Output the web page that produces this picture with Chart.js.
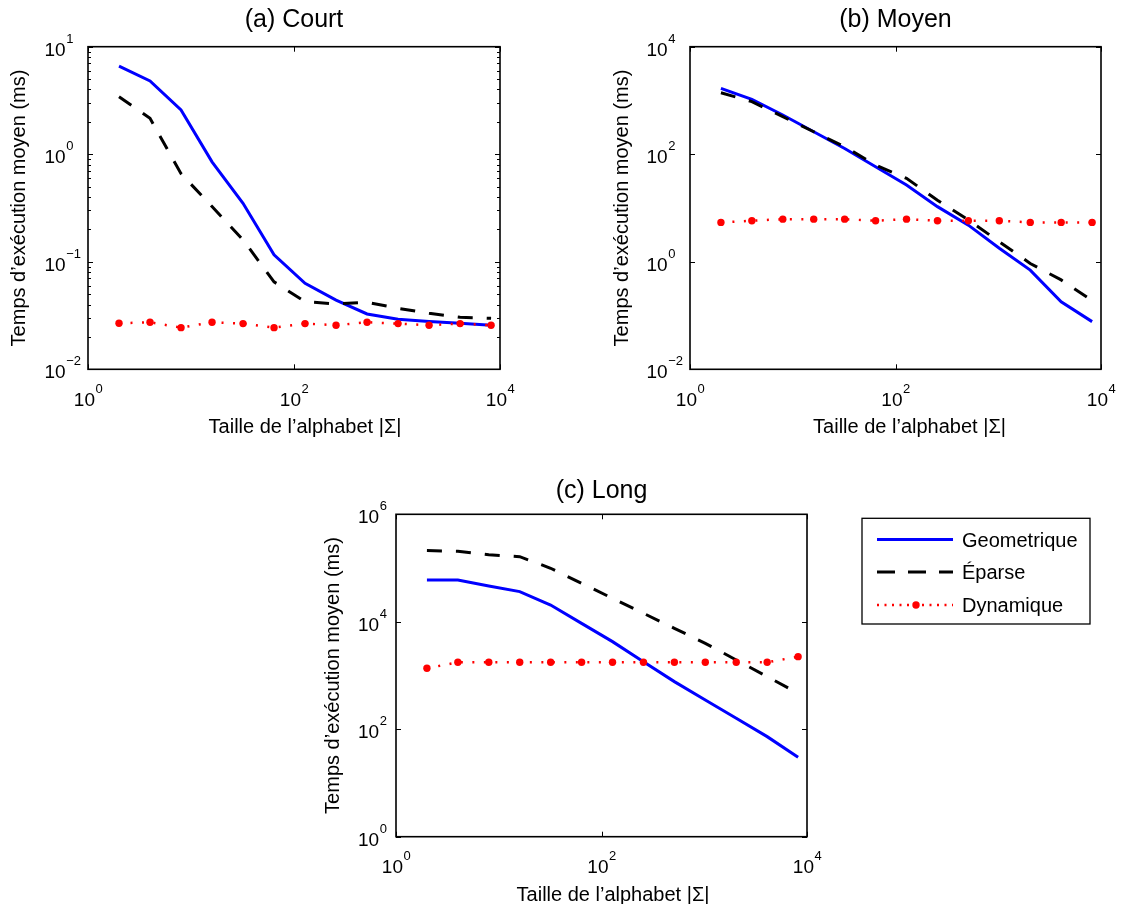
<!DOCTYPE html>
<html>
<head>
<meta charset="utf-8">
<script src="https://cdn.jsdelivr.net/npm/chart.js@4.4.0/dist/chart.umd.min.js"></script>
<style>
  html, body { margin: 0; padding: 0; background: #fff; }
  #wrap { position: relative; width: 1122px; height: 904px; }
  canvas { position: absolute; left: 0; top: 0; }
</style>
</head>
<body>
<div id="wrap">
  <canvas id="chartA" width="1122" height="904"></canvas>
  <canvas id="chartB" width="1122" height="904"></canvas>
  <canvas id="chartC" width="1122" height="904"></canvas>
</div>
<script>
// alphabet sizes |Sigma| (x axis)
const alphabetSizes = [2, 4, 8, 16, 32, 64, 128, 256, 512, 1024, 2048, 4096, 8192];

// (a) Court
const courtGeometrique = [6.6, 4.8, 2.58, 0.85, 0.35, 0.116, 0.063, 0.044, 0.0327, 0.0292, 0.0278, 0.0268, 0.0257];
const courtEparse = [3.43, 2.16, 0.66, 0.326, 0.16, 0.065, 0.0426, 0.0405, 0.042, 0.0369, 0.0332, 0.0305, 0.0298];
const courtDynamique = [0.0268, 0.0274, 0.0244, 0.0274, 0.0266, 0.0244, 0.0266, 0.0257, 0.0274, 0.0266, 0.0257, 0.0266, 0.0257];

// (b) Moyen
const moyenGeometrique = [1680, 1050, 536, 262, 128, 58.6, 26.7, 10.6, 4.8, 1.78, 0.70, 0.18, 0.077];
const moyenEparse = [1390, 950, 500, 262, 138, 63, 35.6, 14, 6.0, 2.36, 0.93, 0.46, 0.19];
const moyenDynamique = [5.4, 5.8, 6.2, 6.2, 6.2, 5.8, 6.2, 5.8, 5.8, 5.8, 5.4, 5.4, 5.4];

// (c) Long
const longGeometrique = [60000, 60000, 46300, 36400, 20500, 9350, 4270, 1810, 769, 351, 160, 72.8, 30];
const longEparse = [211000, 205000, 177000, 163000, 99000, 52000, 27300, 14400, 7550, 3970, 1945, 953, 467];
const longDynamique = [1360, 1760, 1760, 1760, 1760, 1760, 1760, 1760, 1760, 1760, 1760, 1760, 2245];

// tick labels (powers of ten)
const xTickExps = [0, 2, 4];
const courtTickExps = [-2, -1, 0, 1];
const moyenTickExps = [-2, 0, 2, 4];
const longTickExps = [0, 2, 4, 6];

const seriesNames = ['Geometrique', 'Éparse', 'Dynamique'];
const xTitle = 'Taille de l\u2019alphabet |\u03a3|';
const yTitle = 'Temps d\u2019ex\u00e9cution moyen (ms)';

const FONT = '"Liberation Sans", Arial, Helvetica, sans-serif';

function toPoints(values) {
    return alphabetSizes.map((x, i) => ({ x: x, y: values[i] }));
}

function drawPow(ctx, x, y, exp, centered) {
    const base = '10';
    const sup = exp < 0 ? '\u2212' + (-exp) : String(exp);
    ctx.font = '19px ' + FONT;
    const wb = ctx.measureText(base).width;
    ctx.font = '13px ' + FONT;
    const ws = ctx.measureText(sup).width;
    const left = centered ? x - (wb + ws) / 2 : x;
    ctx.textAlign = 'left';
    ctx.textBaseline = 'alphabetic';
    ctx.font = '19px ' + FONT;
    ctx.fillText(base, left, y);
    ctx.font = '13px ' + FONT;
    ctx.fillText(sup, left + wb + 0.5, y - 13);
}

// MATLAB-like box, inward ticks, labels and titles
const matlabAxes = {
    id: 'matlabAxes',
    afterDraw(chart, args, o) {
        const ctx = chart.ctx;
        const a = chart.chartArea;
        const xs = chart.scales.x, ys = chart.scales.y;
        ctx.save();
        ctx.fillStyle = '#000';
        ctx.strokeStyle = '#000';

        // ticks
        ctx.lineWidth = 1;
        ctx.beginPath();
        xTickExps.forEach(e => {
            const px = Math.round(xs.getPixelForValue(Math.pow(10, e))) + 0.5;
            ctx.moveTo(px, a.bottom); ctx.lineTo(px, a.bottom - 5);
            ctx.moveTo(px, a.top); ctx.lineTo(px, a.top + 5);
        });
        o.yTicks.forEach(e => {
            const py = Math.round(ys.getPixelForValue(Math.pow(10, e))) + 0.5;
            ctx.moveTo(a.left, py); ctx.lineTo(a.left + 5, py);
            ctx.moveTo(a.right, py); ctx.lineTo(a.right - 5, py);
        });
        if (o.yMinor) {
            for (let e = o.yTicks[0]; e < o.yTicks[o.yTicks.length - 1]; e++) {
                for (let m = 2; m <= 9; m++) {
                    const py = Math.round(ys.getPixelForValue(m * Math.pow(10, e))) + 0.5;
                    ctx.moveTo(a.left, py); ctx.lineTo(a.left + 3, py);
                    ctx.moveTo(a.right, py); ctx.lineTo(a.right - 3, py);
                }
            }
        }
        ctx.stroke();

        // box
        ctx.lineWidth = 1.6;
        ctx.strokeRect(a.left, a.top, a.right - a.left, a.bottom - a.top);

        // tick labels
        xTickExps.forEach(e => {
            drawPow(ctx, xs.getPixelForValue(Math.pow(10, e)), a.bottom + 36.5, e, true);
        });
        o.yTicks.forEach(e => {
            drawPow(ctx, a.left + o.yLabelDx, ys.getPixelForValue(Math.pow(10, e)) + 9, e, false);
        });

        // titles
        ctx.textAlign = 'center';
        ctx.textBaseline = 'alphabetic';
        ctx.font = '25px ' + FONT;
        ctx.fillText(o.title, (a.left + a.right) / 2, o.titleY);

        ctx.font = '20px ' + FONT;
        ctx.fillText(xTitle, (a.left + a.right) / 2 + o.xTitleDx, a.bottom + 64);

        ctx.save();
        ctx.translate(o.yTitleX, (a.top + a.bottom) / 2);
        ctx.rotate(-Math.PI / 2);
        ctx.fillText(yTitle, 0, 0);
        ctx.restore();

        // legend (only on the third panel)
        if (o.legendBox) {
            const lb = o.legendBox;
            ctx.lineWidth = 1.3;
            ctx.strokeRect(lb.left, lb.top, lb.right - lb.left, lb.bottom - lb.top);
            const rows = [539.5, 572, 605];
            const dashes = [[], [18, 13], [2, 5.5]];
            chart.data.datasets.forEach((ds, i) => {
                const y = rows[i];
                ctx.save();
                ctx.strokeStyle = ds.borderColor;
                ctx.lineWidth = ds.borderWidth;
                ctx.setLineDash(dashes[i]);
                ctx.beginPath();
                ctx.moveTo(877, y); ctx.lineTo(953, y);
                ctx.stroke();
                if (ds.pointRadius > 0) {
                    ctx.fillStyle = ds.pointBackgroundColor;
                    ctx.beginPath();
                    ctx.arc(916, y, ds.pointRadius, 0, Math.PI * 2);
                    ctx.fill();
                }
                ctx.restore();
                ctx.textAlign = 'left';
                ctx.font = '20px ' + FONT;
                ctx.fillText(ds.label, 962, y + 7);
            });
        }
        ctx.restore();
    }
};

function makeChart(id, box, yMin, yMax, geo, epa, dyn, axesOpts) {
    return new Chart(document.getElementById(id), {
        type: 'line',
        data: {
            datasets: [{
                label: seriesNames[0],
                data: toPoints(geo),
                borderColor: '#0000ff',
                borderWidth: 3,
                pointRadius: 0,
                order: 3
            }, {
                label: seriesNames[1],
                data: toPoints(epa),
                borderColor: '#000000',
                borderWidth: 3,
                borderDash: [15, 14],
                pointRadius: 0,
                order: 2
            }, {
                label: seriesNames[2],
                data: toPoints(dyn),
                borderColor: '#ff0000',
                borderWidth: 2.5,
                borderDash: [2, 9.5],
                pointRadius: 3.7,
                pointBorderWidth: 0,
                pointBackgroundColor: '#ff0000',
                order: 1
            }]
        },
        options: {
            responsive: false,
            animation: false,
            devicePixelRatio: 1,
            layout: {
                padding: { left: box.l, top: box.t, right: 1122 - box.r, bottom: 904 - box.b }
            },
            plugins: {
                legend: { display: false },
                tooltip: { enabled: false },
                matlabAxes: axesOpts
            },
            scales: {
                x: { type: 'logarithmic', min: 1, max: 10000, display: false },
                y: { type: 'logarithmic', min: yMin, max: yMax, display: false }
            }
        },
        plugins: [matlabAxes]
    });
}

makeChart('chartA', { l: 88, t: 46.7, r: 500, b: 369.3 }, 0.01, 10,
    courtGeometrique, courtEparse, courtDynamique,
    { title: '(a) Court', titleY: 27, xTitleDx: 11, yTitleX: 25, yLabelDx: -43.5, yTicks: courtTickExps, yMinor: true });

makeChart('chartB', { l: 690, t: 46.7, r: 1101, b: 369.3 }, 0.01, 10000,
    moyenGeometrique, moyenEparse, moyenDynamique,
    { title: '(b) Moyen', titleY: 27, xTitleDx: 14, yTitleX: 628, yLabelDx: -43.5, yTicks: moyenTickExps, yMinor: false });

makeChart('chartC', { l: 396, t: 514.3, r: 807, b: 836.7 }, 1, 1000000,
    longGeometrique, longEparse, longDynamique,
    { title: '(c) Long', titleY: 497.5, xTitleDx: 11.5, yTitleX: 339, yLabelDx: -38, yTicks: longTickExps, yMinor: false,
      legendBox: { left: 862, top: 518.3, right: 1090, bottom: 624 } });
</script>
</body>
</html>
